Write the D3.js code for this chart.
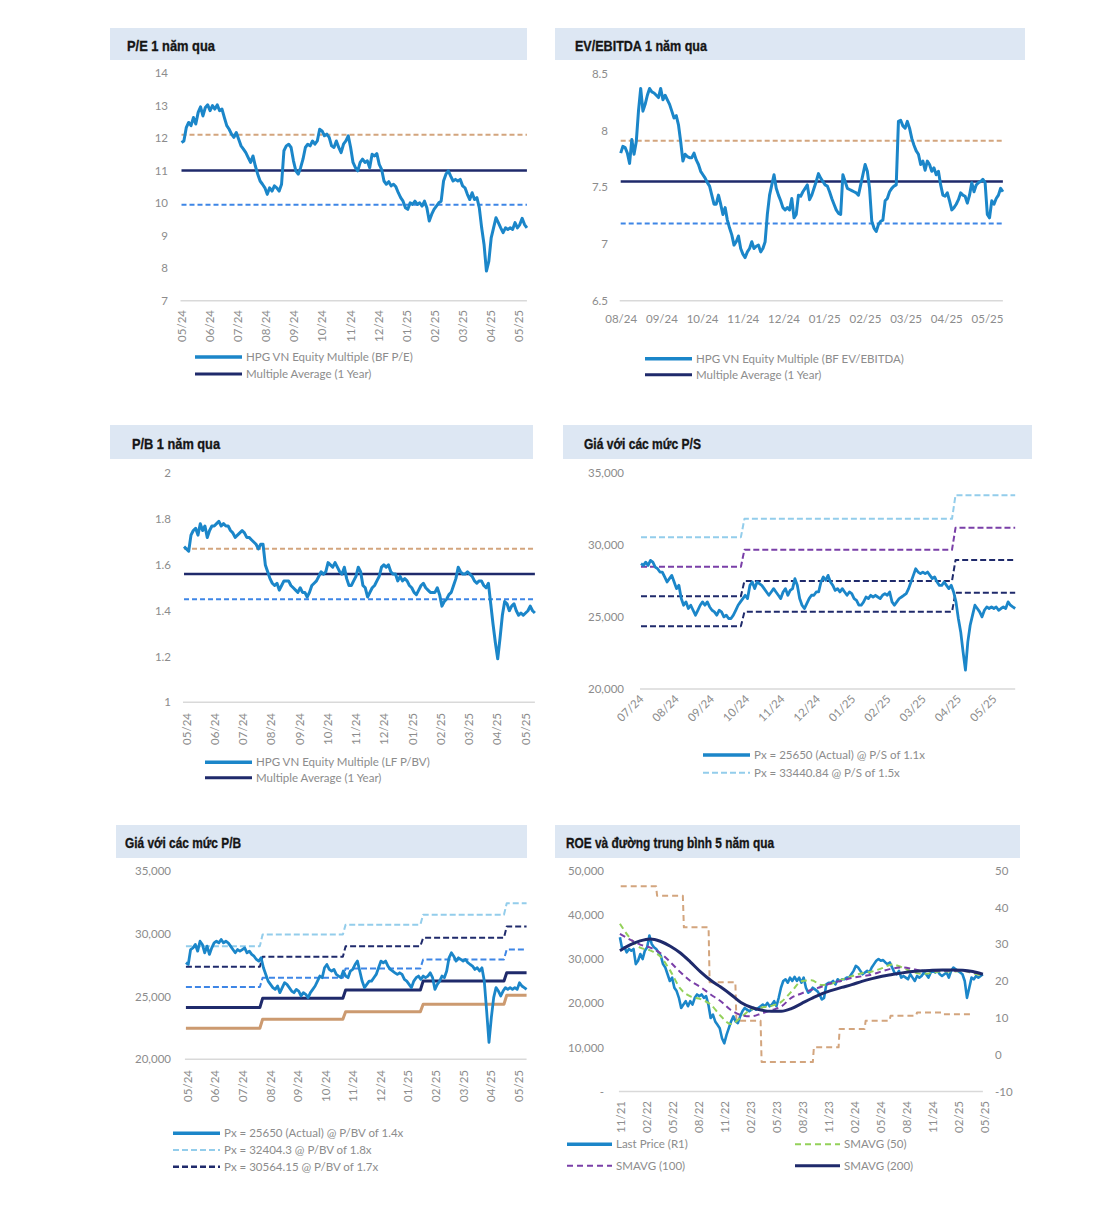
<!DOCTYPE html>
<html lang="vi">
<head>
<meta charset="UTF-8">
<title>HPG - định giá</title>
<script src="https://d3js.org/d3.v7.min.js"></script>
<style>
  body { margin: 0; background: #fff; }
  .ttl { font-family: "Liberation Sans", Arial, sans-serif; font-weight: bold; font-size: 15.5px; fill: #151515; stroke: #151515; stroke-width: 0.35px; }
  .ax text, .lg { font-family: Lato, "Open Sans", sans-serif; font-size: 11.5px; fill: #8c8c8c; }
</style>
</head>
<body>
<svg width="1113" height="1229"></svg>
<script>
// ---- labels ----
var titles = ["P/E 1 năm qua", "EV/EBITDA 1 năm qua", "P/B 1 năm qua", "Giá với các mức P/S", "Giá với các mức P/B", "ROE và đường trung bình 5 năm qua"];
var monthsY1 = ["05/24","06/24","07/24","08/24","09/24","10/24","11/24","12/24","01/25","02/25","03/25","04/25","05/25"];
var monthsEV = ["08/24","09/24","10/24","11/24","12/24","01/25","02/25","03/25","04/25","05/25"];
var monthsPS = ["07/24","08/24","09/24","10/24","11/24","12/24","01/25","02/25","03/25","04/25","05/25"];
var quartersROE = ["11/21","02/22","05/22","08/22","11/22","02/23","05/23","08/23","11/23","02/24","05/24","08/24","11/24","02/25","05/25"];

var peLegend = ["HPG VN Equity Multiple (BF P/E)", "Multiple Average (1 Year)"];
var evLegend = ["HPG VN Equity Multiple (BF EV/EBITDA)", "Multiple Average (1 Year)"];
var pbLegend = ["HPG VN Equity Multiple (LF P/BV)", "Multiple Average (1 Year)"];
var psLegend = ["Px = 25650 (Actual) @ P/S of 1.1x", "Px = 33440.84 @ P/S of 1.5x"];
var pbPxLegend = ["Px = 25650 (Actual) @ P/BV of 1.4x", "Px = 32404.3 @ P/BV of 1.8x", "Px = 30564.15 @ P/BV of 1.7x"];
var roeLegend = ["Last Price  (R1)", "SMAVG (50)", "SMAVG (100)", "SMAVG (200)"];

// ---- P/E (months from 05/24) ----
var peSpan = [0, 12.3];
var peBands = [12.1, 11.0, 9.95]; // +1sd, mean, -1sd
var peValues = [11.86,11.91,12.32,12.48,12.38,12.63,12.43,12.79,12.96,12.68,
  12.94,13.02,12.84,13.0,12.89,13.02,12.84,12.89,12.63,12.38,
  12.27,12.12,12.02,12.17,11.96,11.76,11.66,11.55,11.40,11.25,
  11.45,11.14,10.89,10.68,10.58,10.47,10.27,10.47,10.37,10.53,
  10.47,10.37,10.58,11.61,11.76,11.81,11.71,11.30,10.99,10.89,
  11.09,11.35,11.71,11.81,11.76,11.91,11.81,11.91,12.27,12.22,
  12.07,12.12,12.02,11.76,11.71,11.91,11.71,11.55,11.81,11.91,
  12.07,11.71,11.25,11.09,10.99,11.25,11.35,11.25,11.30,11.09,
  11.50,11.45,11.52,11.19,11.04,10.68,10.58,10.66,10.53,10.58,
  10.50,10.32,10.17,10.06,9.86,9.81,10.01,9.96,10.06,9.96,
  10.01,9.91,10.06,9.86,9.45,9.65,9.81,9.91,10.01,10.06,
  10.68,10.89,10.99,10.83,10.68,10.73,10.68,10.73,10.53,10.47,
  10.27,10.11,10.32,10.11,10.17,9.86,9.24,8.73,7.91,8.21,
  8.93,9.24,9.55,9.40,9.24,9.09,9.24,9.19,9.24,9.19,
  9.40,9.24,9.34,9.53,9.34,9.24];

// ---- EV/EBITDA (months from 08/24) ----
var evSpan = [0, 9.39];
var evBands = [7.91, 7.55, 7.18];
var evValues = [7.80,7.86,7.85,7.80,7.71,7.92,7.79,7.90,8.17,8.37,
  8.17,8.23,8.31,8.37,8.34,8.33,8.31,8.29,8.37,8.27,
  8.31,8.27,8.23,8.17,8.11,8.13,8.05,7.90,7.73,7.79,
  7.77,7.76,7.76,7.80,7.74,7.70,7.64,7.61,7.58,7.54,
  7.51,7.43,7.35,7.35,7.43,7.35,7.26,7.32,7.21,7.14,
  7.08,6.99,7.02,7.07,6.96,6.91,6.88,6.93,6.96,7.02,
  6.96,6.98,6.99,6.93,6.96,7.02,7.26,7.43,7.52,7.61,
  7.49,7.43,7.38,7.32,7.30,7.32,7.30,7.40,7.23,7.26,
  7.43,7.42,7.46,7.49,7.52,7.39,7.43,7.49,7.55,7.62,
  7.58,7.55,7.52,7.51,7.46,7.40,7.35,7.30,7.27,7.26,
  7.61,7.55,7.49,7.48,7.47,7.46,7.45,7.43,7.52,7.61,
  7.70,7.64,7.49,7.20,7.14,7.11,7.17,7.20,7.21,7.38,
  7.40,7.46,7.49,7.51,7.52,8.08,8.09,8.04,8.02,8.08,
  8.02,7.93,7.87,7.82,7.79,7.70,7.73,7.65,7.73,7.70,
  7.64,7.67,7.61,7.64,7.52,7.43,7.42,7.45,7.38,7.30,
  7.32,7.35,7.39,7.45,7.43,7.42,7.36,7.43,7.54,7.46,
  7.52,7.54,7.55,7.57,7.54,7.26,7.23,7.38,7.35,7.40,
  7.43,7.49,7.46];

// ---- P/B (months from 05/24) ----
var pbSpan = [-0.07, 12.35];
var pbBands = [1.67, 1.56, 1.45];
var pbValues = [1.68,1.67,1.66,1.73,1.75,1.76,1.73,1.78,1.75,1.77,
  1.72,1.75,1.77,1.77,1.78,1.79,1.77,1.78,1.77,1.77,
  1.75,1.74,1.72,1.73,1.74,1.75,1.74,1.72,1.72,1.71,
  1.70,1.69,1.67,1.69,1.69,1.60,1.57,1.54,1.52,1.51,
  1.52,1.49,1.51,1.53,1.53,1.53,1.51,1.50,1.49,1.48,
  1.50,1.48,1.48,1.46,1.48,1.51,1.52,1.53,1.55,1.57,
  1.56,1.57,1.61,1.60,1.59,1.61,1.59,1.57,1.56,1.59,
  1.54,1.51,1.51,1.53,1.55,1.59,1.57,1.51,1.50,1.46,
  1.48,1.50,1.51,1.53,1.55,1.59,1.60,1.59,1.60,1.57,
  1.56,1.56,1.53,1.55,1.53,1.54,1.53,1.51,1.50,1.48,
  1.47,1.49,1.51,1.52,1.50,1.49,1.48,1.48,1.48,1.50,
  1.47,1.42,1.44,1.45,1.47,1.48,1.51,1.54,1.59,1.57,
  1.56,1.56,1.57,1.56,1.55,1.53,1.52,1.53,1.53,1.51,
  1.50,1.52,1.43,1.34,1.26,1.19,1.28,1.38,1.44,1.43,
  1.40,1.42,1.43,1.40,1.38,1.39,1.38,1.39,1.40,1.42,
  1.40,1.39];

// ---- price vs P/S levels (months from 07/24) ----
var psSpan = [0, 10.6];
var psBreaks = [2.88, 8.86];
var psLevels = [
  [30530, 31800, 33441],  // 1.5x
  [28480, 29650, 31180],  // 1.4x
  [26430, 27490, 28940],  // 1.3x
  [24360, 25350, 26680]   // 1.2x
];
var psPrice = [28690,28570,28800,28570,28920,28800,28460,28340,28110,28110,
  27770,27420,27650,27880,27420,26960,27190,26270,25810,26040,
  25580,25810,25460,25120,25460,25810,26040,25810,26040,25690,
  25460,25350,25120,25460,25350,25000,25120,24890,24890,25120,
  25460,25810,26040,26270,26500,26270,27190,27420,26960,27420,
  27310,27190,26960,26730,26500,26730,26960,26730,26500,26270,
  26730,26960,26500,26840,26960,27650,27190,26270,25810,25580,
  25920,26270,26500,26500,26730,26730,27420,27770,27540,27880,
  27420,27190,26840,26960,26730,26960,26730,26500,26730,26610,
  26270,26150,25810,25810,26040,26380,26270,26500,26380,26500,
  26380,26270,26500,26610,26500,26730,26040,25810,26040,26270,
  26380,26500,26610,26960,27420,27880,28340,28110,28000,28110,
  28000,28110,27880,27650,27770,27420,27190,27190,27420,27190,
  26960,27190,26730,26040,24890,23960,22580,21310,23270,24420,
  25120,25810,25580,25350,25000,25460,25690,25580,25690,25580,
  25690,25460,25580,25690,25580,26040,25810,25690,25580];

// ---- price vs P/BV levels (months from 05/24) ----
var pbPxSpan = [-0.05, 12.3];
var pbPxBreaks = [2.68, 5.69, 8.5, 11.53];
var pbPxLevels = [
  [29000, 29920, 30710, 31500, 32404],  // 1.8x
  [27360, 28150, 29000, 29660, 30564],  // 1.7x
  [25750, 26490, 27230, 27940, 28730],  // 1.6x
  [24110, 24850, 25510, 26220, 26880],  // 1.5x
  [22470, 23190, 23790, 24380, 25090]   // 1.4x
];
var pbPxPrice = [27680,27540,28730,28860,29130,28600,29390,29130,28470,29000,
  28340,28860,29260,29390,29260,29530,29260,29390,29260,29000,
  28730,28470,28730,28600,28730,28860,28470,28600,28340,28200,
  27940,27810,28070,27280,26750,26220,25960,25700,25560,25830,
  25300,25700,26090,25960,25700,25430,25300,25560,25430,25040,
  25300,25170,24900,25300,25560,25830,26220,26620,26490,27280,
  27540,27150,27020,27150,26750,26620,26490,27020,26620,26490,
  27020,27150,27540,27810,27020,26220,25700,25960,26220,26220,
  26490,26750,27280,27810,27680,27810,27410,27150,27020,26880,
  26750,26880,26750,26360,26220,25960,25700,26220,26490,26620,
  26360,26620,26490,26620,26880,26490,25560,25960,26220,26620,
  26490,27020,28070,28470,28200,27810,28070,27940,27810,27940,
  27680,27540,27410,27150,27280,27020,27280,26220,23850,21340,
  23320,24900,25700,25430,25040,25430,25700,25560,25700,25560,
  25700,25560,26090,25830,25700,25560];

// ---- ROE & moving averages (quarters from 11/21) ----
var roeSpan = [0, 13.5];
var roeBreaks = [1.38, 2.41, 3.40, 4.43, 5.40, 7.41, 8.40, 9.40, 10.36, 11.38, 12.41];
var roeLevels = [45.8, 43.2, 34.6, 19.7, 9.2, -2.0, 2.0, 7.0, 9.2, 10.6, 11.5, 11.0];
var pxSpan5y = [-0.03, 13.93];
var lastPrice = [34950,32280,32660,31510,32280,31890,32280,28840,29600,31130,
  29990,31890,32660,35330,33420,32660,32280,31510,30750,28840,
  28080,26550,25030,25790,23500,22740,21210,18920,19690,20450,
  19300,20450,19690,21210,21970,21590,21970,21210,21590,19690,
  16630,17400,15870,15110,14340,12060,10910,12820,14340,15870,
  17010,15870,15490,17010,18160,18920,18540,18160,18540,18920,
  18540,18920,19300,19690,19300,20070,19300,19690,20450,19300,
  21210,23500,25030,25410,24640,25790,25030,25940,25030,25790,
  24640,25790,23500,22360,22740,23500,23120,22740,21970,20830,
  21210,24260,24640,24640,25030,24260,25410,25030,25410,25410,
  25790,25790,26550,27320,28460,28080,27320,26550,26930,27320,
  26930,28080,28840,29600,29990,29600,29760,29220,28840,29220,
  28080,26930,26550,27320,25790,26170,25790,25410,26550,25790,
  25030,26170,25790,26170,26930,26550,25790,26930,27320,26930,
  27320,26550,26170,26550,26930,25790,27320,28080,27700,27320,
  26930,26550,25030,21210,23500,25790,25410,26170,25790,26170,
  26550];
var sma50 = [38000,34720,32580,31970,30600,27320,23270,21520,20910,19690,
  17090,15260,16790,18540,19000,19380,20300,22580,24950,25180,
  24110,24410,25330,26090,26780,27160,27930,28770,28080,27090,
  26630,26860,27240,27160,27320,26780,26170];
var sma100 = [35700,34410,33270,32580,31360,29300,27010,25030,23650,21970,
  20450,18460,17320,17010,17630,18390,19230,21210,22200,23040,
  23730,24570,25100,25710,26090,26480,27240,27850,28080,27770,
  27320,27320,27320,27320,27320,27010,26550];
var sma200 = [31890,33190,34110,34560,34030,32890,31360,29300,27090,25180,
  23650,21970,20140,19080,18460,18160,18160,18770,19910,21060,
  22130,22890,23580,24190,24950,25560,26090,26480,26860,27160,
  27320,27470,27540,27540,27470,27160,26550];

// ---------------------------------------------------------------
var svg = d3.select("svg");
var C = {
  band: "#dde7f3", grid: "#d9d9d9",
  blue: "#1b86c9", navy: "#1f2a6b", tan: "#d3a57e", dash: "#3e86e6",
  light: "#93cdeb", purple: "#7a3fa8", green: "#94d15a", tanSolid: "#cc9a70"
};

function uniform(values, span) {
  var step = (span[1] - span[0]) / (values.length - 1);
  return values.map(function(v, i) { return [span[0] + i * step, v]; });
}

function stepPoints(span, breaks, levels, ramp) {
  var pts = [[span[0], levels[0]]];
  breaks.forEach(function(b, i) {
    pts.push([b - ramp, levels[i]]);
    pts.push([b + ramp, levels[i + 1]]);
  });
  pts.push([span[1], levels[levels.length - 1]]);
  return pts;
}

// header band; the title is squeezed to the narrow bold look of the original
function band(x, y, w, h, tx, ty, title, tw) {
  svg.append("rect").attr("x", x).attr("y", y).attr("width", w).attr("height", h).attr("fill", C.band);
  svg.append("text").attr("class", "ttl").attr("x", tx).attr("y", ty)
    .attr("textLength", tw).attr("lengthAdjust", "spacingAndGlyphs").text(title);
}

function yAxis(scale, ticks, fmt, xPos, right) {
  var ax = (right ? d3.axisRight(scale) : d3.axisLeft(scale))
    .tickValues(ticks).tickFormat(fmt).tickSize(0).tickPadding(0);
  var g = svg.append("g").attr("class", "ax").attr("transform", "translate(" + xPos + ",0)").call(ax);
  g.select(".domain").remove();
}

function xAxis(scale, labels, yPos, angle) {
  var ax = d3.axisBottom(scale).tickValues(d3.range(labels.length))
    .tickFormat(function(i) { return labels[i]; }).tickSize(0).tickPadding(0);
  var g = svg.append("g").attr("class", "ax").attr("transform", "translate(0," + yPos + ")").call(ax);
  g.select(".domain").remove();
  if (angle) {
    g.selectAll("text").attr("x", 0).attr("y", 0).attr("dy", "0.35em")
      .attr("text-anchor", "end").attr("transform", "rotate(" + angle + ")");
  }
}

function floorLine(x, span, yv) {
  svg.append("line").attr("x1", x(span[0]) - 1).attr("x2", x(span[1]))
    .attr("y1", yv).attr("y2", yv).attr("stroke", C.grid).attr("stroke-width", 1.5);
}

function path(pts, x, y, color, w, dash, curve) {
  var line = d3.line().x(function(d) { return x(d[0]); }).y(function(d) { return y(d[1]); })
    .curve(curve || d3.curveLinear);
  svg.append("path").datum(pts).attr("d", line).attr("fill", "none")
    .attr("stroke", color).attr("stroke-width", w).attr("stroke-linejoin", "round")
    .attr("stroke-dasharray", dash || null);
}

function legendRow(x0, yv, len, color, w, dash, label) {
  svg.append("line").attr("x1", x0).attr("x2", x0 + len).attr("y1", yv).attr("y2", yv)
    .attr("stroke", color).attr("stroke-width", w).attr("stroke-dasharray", dash || null);
  svg.append("text").attr("class", "lg").attr("x", x0 + len + 4).attr("y", yv + 4).text(label);
}

var num = function(d) { return String(d); };
var thou = d3.format(",");

// ===== 1. P/E =====
band(110, 28, 417, 32, 127, 50.5, titles[0], 88);
var x1 = d3.scaleLinear().domain([0, 12]).range([181.5, 518.5]);
var y1 = d3.scaleLinear().domain([7, 14]).range([300.7, 73]);
yAxis(y1, d3.range(7, 15), num, 168);
floorLine(x1, peSpan, y1(7));
xAxis(x1, monthsY1, 310, -90);
path([[peSpan[0], peBands[0]], [peSpan[1], peBands[0]]], x1, y1, C.tan, 2, "5,3");
path([[peSpan[0], peBands[2]], [peSpan[1], peBands[2]]], x1, y1, C.dash, 2, "5,3");
path([[peSpan[0], peBands[1]], [peSpan[1], peBands[1]]], x1, y1, C.navy, 2.5);
path(uniform(peValues, peSpan), x1, y1, C.blue, 3);
legendRow(195, 357, 47, C.blue, 3.5, null, peLegend[0]);
legendRow(195, 374, 47, C.navy, 3, null, peLegend[1]);

// ===== 2. EV/EBITDA =====
band(555, 28, 470, 32, 575, 50.5, titles[1], 132);
var x2 = d3.scaleLinear().domain([0, 9]).range([620.7, 987]);
var y2 = d3.scaleLinear().domain([6.5, 8.5]).range([300.7, 73.7]);
yAxis(y2, [6.5, 7, 7.5, 8, 8.5], num, 608);
floorLine(x2, evSpan, y2(6.5));
xAxis(x2, monthsEV, 315, 0);
path([[evSpan[0], evBands[0]], [evSpan[1], evBands[0]]], x2, y2, C.tan, 2, "5,3");
path([[evSpan[0], evBands[2]], [evSpan[1], evBands[2]]], x2, y2, C.dash, 2, "5,3");
path([[evSpan[0], evBands[1]], [evSpan[1], evBands[1]]], x2, y2, C.navy, 2.5);
path(uniform(evValues, evSpan), x2, y2, C.blue, 3);
legendRow(645, 358.7, 47, C.blue, 3.5, null, evLegend[0]);
legendRow(645, 374.7, 47, C.navy, 3, null, evLegend[1]);

// ===== 3. P/B =====
band(110, 425, 423, 34, 132, 449, titles[2], 88);
var x3 = d3.scaleLinear().domain([0, 12]).range([186, 525]);
var y3 = d3.scaleLinear().domain([1, 2]).range([702.3, 473.3]);
yAxis(y3, [1, 1.2, 1.4, 1.6, 1.8, 2], num, 171);
floorLine(x3, pbSpan, y3(1));
xAxis(x3, monthsY1, 713, -90);
path([[pbSpan[0], pbBands[0]], [pbSpan[1], pbBands[0]]], x3, y3, C.tan, 2, "5,3");
path([[pbSpan[0], pbBands[2]], [pbSpan[1], pbBands[2]]], x3, y3, C.dash, 2, "5,3");
path([[pbSpan[0], pbBands[1]], [pbSpan[1], pbBands[1]]], x3, y3, C.navy, 2.5);
path(uniform(pbValues, pbSpan), x3, y3, C.blue, 3);
legendRow(205, 762.3, 47, C.blue, 3.5, null, pbLegend[0]);
legendRow(205, 777.7, 47, C.navy, 3, null, pbLegend[1]);

// ===== 4. Price vs P/S =====
band(563, 425, 469, 34, 584, 449, titles[3], 117);
var x4 = d3.scaleLinear().domain([0, 10]).range([641, 994]);
var y4 = d3.scaleLinear().domain([20000, 35000]).range([689, 472.7]);
yAxis(y4, [20000, 25000, 30000, 35000], thou, 624);
floorLine(x4, psSpan, y4(20000));
xAxis(x4, monthsPS, 697, -45);
var psStyle = [[C.light, "6,3"], [C.purple, "6,3"], [C.navy, "6,3"], [C.navy, "6,3"]];
psLevels.forEach(function(lv, i) {
  path(stepPoints(psSpan, psBreaks, lv, 0.05), x4, y4, psStyle[i][0], 2, psStyle[i][1]);
});
path(uniform(psPrice, psSpan), x4, y4, C.blue, 2.8);
legendRow(703, 755, 47, C.blue, 3.5, null, psLegend[0]);
legendRow(703, 772.7, 47, C.light, 2, "6,3", psLegend[1]);

// ===== 5. Price vs P/B =====
band(116, 825, 411, 33, 125, 847.5, titles[4], 116);
var x5 = d3.scaleLinear().domain([0, 12]).range([187.3, 518.3]);
var y5 = d3.scaleLinear().domain([20000, 35000]).range([1059.3, 870.7]);
yAxis(y5, [20000, 25000, 30000, 35000], thou, 171);
floorLine(x5, pbPxSpan, y5(20000));
xAxis(x5, monthsY1, 1070, -90);
var pbStyle = [[C.light, 2, "6,3"], [C.navy, 2, "6,3"], [C.dash, 2, "6,3"], [C.navy, 3, null], [C.tanSolid, 3, null]];
pbPxLevels.forEach(function(lv, i) {
  path(stepPoints(pbPxSpan, pbPxBreaks, lv, 0.05), x5, y5, pbStyle[i][0], pbStyle[i][1], pbStyle[i][2]);
});
path(uniform(pbPxPrice, pbPxSpan), x5, y5, C.blue, 2.8);
legendRow(173, 1133.3, 47, C.blue, 3.5, null, pbPxLegend[0]);
legendRow(173, 1150, 47, C.light, 2, "6,3", pbPxLegend[1]);
legendRow(173, 1166.7, 47, C.navy, 2.5, "6,3", pbPxLegend[2]);

// ===== 6. ROE & moving averages =====
band(555, 825, 465, 33, 566, 847.5, titles[5], 208);
var x6 = d3.scaleLinear().domain([0, 14]).range([620.7, 984.7]);
var y6 = d3.scaleLinear().domain([0, 50000]).range([1091.5, 870.7]);
var y6r = d3.scaleLinear().domain([-10, 50]).range([1091.5, 870.7]);
yAxis(y6, d3.range(0, 50001, 10000), function(d) { return d === 0 ? "-" : thou(d); }, 604);
yAxis(y6r, d3.range(-10, 51, 10), num, 995, true);
floorLine(x6, pxSpan5y, y6(0));
xAxis(x6, quartersROE, 1101, -90);
path(stepPoints(roeSpan, roeBreaks, roeLevels, 0.02), x6, y6r, C.tan, 2, "6,4");
path(uniform(lastPrice, pxSpan5y), x6, y6, C.blue, 2.6);
path(uniform(sma50, pxSpan5y), x6, y6, C.green, 2, "6,4", d3.curveMonotoneX);
path(uniform(sma100, pxSpan5y), x6, y6, C.purple, 2, "6,4", d3.curveMonotoneX);
path(uniform(sma200, pxSpan5y), x6, y6, C.navy, 3, null, d3.curveMonotoneX);
legendRow(567, 1144.3, 45, C.blue, 3.5, null, roeLegend[0]);
legendRow(795, 1144.3, 45, C.green, 2, "6,4", roeLegend[1]);
legendRow(567, 1165.7, 45, C.purple, 2, "6,4", roeLegend[2]);
legendRow(795, 1165.7, 45, C.navy, 3, null, roeLegend[3]);
</script>
</body>
</html>
